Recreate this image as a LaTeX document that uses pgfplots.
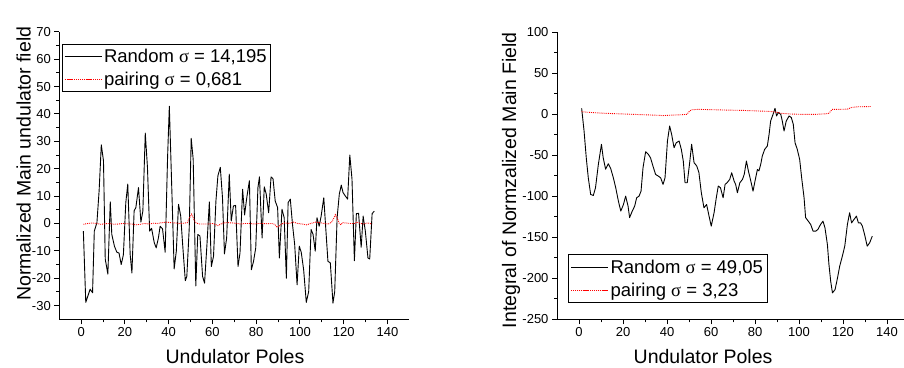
\documentclass[border=0pt]{standalone}
\usepackage{fontspec}
\setmainfont{Liberation Sans}
\newfontfamily\symf{Liberation Serif}
\usepackage{pgfplots}
\pgfplotsset{compat=1.18}
\pgfplotsset{
  orig/.style={
    scale only axis,
    axis x line*=bottom, axis y line*=left,
    axis line style={line width=0.9pt},
    tick align=outside,
    major tick length=5pt, minor tick length=3pt,
    every tick/.style={black, line width=0.9pt},
    xmin=-10, xmax=150, xtick={0,20,...,140}, minor x tick num=1,
    tick label style={font=\fontsize{13}{14}\selectfont},
    /pgf/number format/assume math mode=true,
    label style={font=\fontsize{19.5}{22}\selectfont, text depth=0pt},
    legend cell align=left,
    legend style={draw=black, line width=0.8pt, anchor=north west,
      font=\fontsize{18.5}{20}\selectfont, inner xsep=2pt, inner ysep=3pt,
      row sep=4pt},
    legend image code/.code={\draw[##1] (4pt,0pt) -- (35pt,0pt); \path (0pt,0pt) -- (37pt,0pt);},
  },
  blk/.style={black, line width=0.9pt, line join=round},
  rdd/.style={red, line width=0.9pt, densely dotted},
}
\begin{document}
\begin{tikzpicture}
\useasboundingbox (0pt,0pt) rectangle (904pt,367pt);
% ---------------- left ----------------
\begin{axis}[orig,
  at={(59.3pt,47.7pt)}, anchor=south west,
  width=350pt, height=287.5pt,
  ymin=-35, ymax=70, ytick={-30,-20,...,70}, minor y tick num=1,
  xlabel={Undulator Poles},
  ylabel={Normalized Main undulator field},
  xlabel style={at={(axis description cs:0.502,-0.129)}, anchor=center},
  ylabel style={at={(axis description cs:-0.102,0.541)}, anchor=center},
  legend style={at={(axis description cs:0.007,0.959)}},
]
\addplot[blk] coordinates {
(1.0,-2.8)(2.1,-28.8)(4.1,-24)(5.2,-25.3)(6.0,-2.8)(7.2,0.3)(8.2,11.9)(9.2,28.7)(10.2,22.9)(11.0,-13)(12.2,-18.5)(13.3,7.9)(14.0,-4)(15.2,-8.3)(16.3,-10.5)(17.3,-10.8)(18.3,-15)(19.3,-11.4)(20.4,7.6)(21.3,14.4)(22.4,-11.4)(23.2,-18.1)(24.2,4.6)(25.0,5.8)(26.2,13.1)(27.3,0.5)(28.2,4.6)(29.3,33)(30.3,20.5)(31.3,-2.8)(32.2,-1.8)(33.4,-7)(34.3,-8.9)(35.3,-5.3)(36.1,-1)(37.2,-2)(38.4,-10.5)(39.5,24.2)(40.3,42.8)(41.5,10.7)(42.5,-16.6)(43.5,-10.1)(44.5,7)(45.5,2.7)(46.5,-8.9)(47.6,-20.9)(48.3,-19.3)(49.4,-1.6)(50.3,31.1)(51.2,23.5)(52.4,-22.8)(53.3,-4)(54.3,-4.6)(55.5,-19.3)(56.4,-21.8)(57.5,-7.7)(58.6,7.9)(59.5,-15.7)(60.5,-12)(61.6,8.2)(62.5,17.4)(63.6,20.5)(64.6,9.4)(65.5,-11.1)(66.5,-5.3)(67.7,18)(68.6,0.9)(69.6,6.4)(70.6,6.6)(71.7,-15.7)(72.6,-10.8)(73.8,12.5)(74.7,3.1)(75.7,9.4)(76.9,15.6)(77.8,-16.9)(78.8,-13.8)(79.8,-8.9)(80.8,13.1)(81.5,17)(82.7,-5.3)(83.7,13.4)(84.6,10.7)(85.7,3.9)(86.8,17)(87.7,16.3)(88.7,8.2)(89.8,5.8)(90.6,-12.6)(91.8,5.2)(92.8,2.1)(93.8,-20)(94.6,7.6)(95.6,8.9)(96.6,-0.3)(97.6,-7.7)(98.7,-22.4)(99.7,-8.3)(100.6,-10.5)(101.7,-16.9)(102.9,-28.8)(104.0,-24.9)(105.1,-2.2)(106.0,-4)(107.0,-10.1)(107.8,2.1)(108.8,-1)(109.7,2.7)(110.9,9.4)(112.1,-5.3)(112.8,-13.8)(113.9,-14.4)(115.1,-29.1)(115.9,-24.9)(117.0,2.1)(118.0,10.7)(118.9,14)(119.7,11.3)(120.7,10.1)(121.8,8.9)(122.8,25)(123.8,16.2)(124.9,-13.6)(125.8,3.6)(126.8,3.7)(128.0,-8.7)(128.9,2.7)(129.9,-2.8)(131.1,-12.6)(131.9,-13)(133.0,3.6)(134.0,4.5)
};
\addlegendentry{Random {\symf σ} = 14,195}
\addplot[rdd] coordinates {
(1,-0.3)(3,0)(5,0.2)(7,0)(9,-0.3)(11,-0.1)(13,0)(15,-0.3)(17,-0.2)(19,0)(21,-0.1)(23,-0.2)(25,-0.5)(27,-0.3)(29,0)(31,-0.2)(33,0.1)(35,0)(37,0.3)(39,0.5)(41,0.3)(43,0.2)(45,0)(47,0.1)(48.5,0.3)(49.5,2)(50.5,3.4)(51.5,1.5)(52.5,0.2)(54,-0.2)(56,-0.2)(58,-0.2)(60,0)(61.5,-0.4)(62.5,-0.8)(63.5,-0.3)(65,0.2)(67,0.3)(69,0.2)(71,0)(73,-0.2)(75,0)(77,0)(79,-0.2)(81,0)(83,0)(85,-0.1)(87,0)(88.5,-0.3)(89.5,-1.4)(90.5,-1)(91.5,-0.2)(93,0.2)(95,0)(97,0.5)(99,0)(101,-0.2)(103,-0.5)(105,0)(107,0.5)(109,0.3)(111,0)(113,-0.2)(114.5,0.5)(115.5,2)(116.2,3.2)(117,2)(118,0)(118.7,-0.5)(119.5,0.3)(121,0.2)(123,0)(125,0)(126,0.5)(127,0.2)(129,-0.2)(131,0.2)(133,-0.2)
};
\addlegendentry{pairing {\symf σ} = 0,681}
\end{axis}
% ---------------- right ----------------
\begin{axis}[orig,
  at={(557pt,47.7pt)}, anchor=south west,
  width=352pt, height=287pt,
  ymin=-250, ymax=100, ytick={-250,-200,...,100}, minor y tick num=1,
  xlabel={Undulator Poles},
  ylabel={Integral of Normzalized Main Field},
  xlabel style={at={(axis description cs:0.415,-0.129)}, anchor=center},
  ylabel style={at={(axis description cs:-0.136,0.485)}, anchor=center},
  legend style={at={(axis description cs:0.032,0.2265)}},
]
\addplot[blk] coordinates {
(1.2,7.3)(2.3,-20.4)(3.3,-53)(4.2,-77)(5.3,-97.7)(6.5,-99)(7.5,-89.6)(8.8,-61)(10.2,-36.6)(11,-53)(12.1,-67)(13.3,-60.3)(14.4,-66)(15.6,-77.4)(16.7,-89.6)(17.9,-105.9)(19,-118)(20.2,-110)(21.2,-99.8)(22.3,-112)(23,-126)(24.2,-118)(25.3,-112)(26.2,-101.8)(27.3,-99.8)(28.2,-93.7)(29.1,-65)(30.3,-45.6)(31.5,-48.8)(32.5,-53)(33.6,-63)(34.8,-73.3)(36,-75.3)(37.1,-77.4)(38.2,-85.5)(39.1,-77.4)(40.2,-32.6)(41.2,-14.3)(42.1,-24.4)(43.2,-40.8)(44.2,-34.7)(45.5,-32.6)(46.5,-42.7)(47.4,-57)(48.2,-83.5)(49.2,-83.5)(50.3,-59)(51.2,-36.6)(52.3,-59)(53.5,-63)(54.5,-71)(55.6,-95.7)(56.8,-114)(58,-110)(59.1,-124)(60.1,-136.4)(61.4,-120)(62.4,-101.8)(63.3,-87.5)(64.3,-89.6)(65.5,-101.8)(66.4,-85.5)(67.3,-83.5)(68.5,-79.4)(69.4,-71.3)(70.5,-81.4)(71.2,-85.5)(72,-95.7)(73.1,-83.5)(74.3,-79.4)(75.1,-73.3)(76.1,-57)(77,-69.2)(78.1,-81.4)(79.1,-93.7)(80,-81.4)(81.1,-67.2)(81.8,-69)(82.6,-61)(83.3,-51)(84.4,-42.7)(85.6,-38.7)(86.4,-24.4)(87.1,-8.2)(88.2,0)(89.1,7.3)(89.8,-2)(90.6,2)(91.7,0)(92.4,-8.2)(93.2,-20.4)(94.2,-8.2)(95.5,-2)(96.5,-4)(97.4,-12.2)(98.2,-34.7)(99.2,-42.7)(100.3,-55)(101.2,-77.4)(102.3,-101.8)(103,-126)(104.2,-130.3)(105.3,-134.3)(106.4,-142.5)(107.6,-142.5)(108.6,-140.4)(109.8,-134.3)(110.9,-130.3)(111.8,-138.4)(112.9,-158.7)(113.6,-183)(114.4,-203.5)(115.2,-217.8)(116.4,-213.7)(117.5,-199.5)(118.5,-185.2)(119.7,-173)(120.8,-160.8)(122,-134.3)(123,-120.1)(123.9,-132.4)(125,-128.2)(126.1,-124.2)(127,-132.4)(128,-132.4)(128.8,-136.4)(129.8,-146.5)(131,-160.8)(132.1,-156.8)(133.3,-148.6)
};
\addlegendentry{Random {\symf σ} = 49,05}
\addplot[rdd] coordinates {
(1.2,3.2)(4,2.5)(8,1.8)(12,1.2)(16,0.8)(20,0.4)(24,0)(28,-0.4)(32,-0.8)(36,-1.2)(38,-1.6)(42,-1)(46,-0.6)(49,0)(50,3)(51,5.5)(54,6)(58,5.8)(62,5.5)(66,5.2)(70,5)(74,4.8)(78,4.4)(82,4)(86,3.6)(88,3.2)(90,2.4)(92,1.2)(96,0.4)(100,0)(104,0)(108,0)(112,0.6)(113.5,1.2)(114.5,4)(115,6)(118,6)(122,6.3)(124,8.5)(127,9.2)(130,9.3)(132.7,9.5)
};
\addlegendentry{pairing {\symf σ} = 3,23}
\end{axis}
\end{tikzpicture}
\end{document}
